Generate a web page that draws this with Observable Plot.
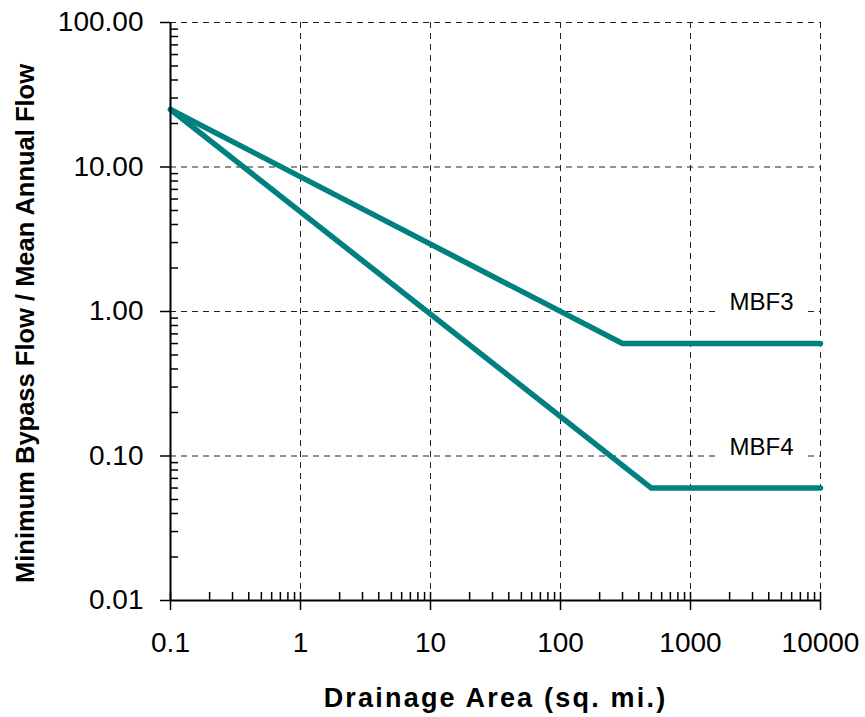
<!DOCTYPE html>
<html>
<head>
<meta charset="utf-8">
<script src="https://cdn.jsdelivr.net/npm/d3@7"></script>
<script src="https://cdn.jsdelivr.net/npm/@observablehq/plot@0.6"></script>
<style>
  html, body { margin: 0; padding: 0; background: #fff; }
</style>
</head>
<body>
<div id="chart"></div>
<script>
// Minimum bypass flow curves (ratio to mean annual flow) against drainage area
const seriesNames = ["MBF3", "MBF4"];
const mbf3Area = [0.1, 300, 10000];
const mbf3Ratio = [25, 0.6, 0.6];
const mbf4Area = [0.1, 500, 10000];
const mbf4Ratio = [25, 0.06, 0.06];

const xTickValues = [0.1, 1, 10, 100, 1000, 10000];
const xTickLabels = ["0.1", "1", "10", "100", "1000", "10000"];
const yTickValues = [0.01, 0.1, 1, 10, 100];
const yTickLabels = ["0.01", "0.10", "1.00", "10.00", "100.00"];

const xTitle = "Drainage Area (sq. mi.)";
const yTitle = "Minimum Bypass Flow / Mean Annual Flow";

const series = [
  {name: seriesNames[0], area: mbf3Area, ratio: mbf3Ratio},
  {name: seriesNames[1], area: mbf4Area, ratio: mbf4Ratio}
];
const rows = series.flatMap(s => s.area.map((a, i) => ({name: s.name, area: a, ratio: s.ratio[i]})));
const ends = series.map(s => ({
  name: s.name,
  area: s.area[s.area.length - 1],
  ratio: s.ratio[s.ratio.length - 1]
}));

// log minor ticks: 2..9 times each decade
const minorBetween = vals => vals.slice(0, -1).flatMap(v => d3.range(2, 10).map(k => v * k));
const xInner = [...xTickValues, ...minorBetween(xTickValues)];
const yInner = minorBetween(yTickValues);

const W = 865, H = 717;
const mL = 170, mR = 45, mT = 22, mB = 117;
const frameW = W - mL - mR, frameH = H - mT - mB;
const innerTick = 8;

const gridStyle = {stroke: "#222", strokeWidth: 1, strokeDasharray: "6,5"};

const chart = Plot.plot({
  width: W,
  height: H,
  marginLeft: mL,
  marginRight: mR,
  marginTop: mT,
  marginBottom: mB,
  style: {
    fontFamily: "'Liberation Sans', Arial, Helvetica, sans-serif",
    fontSize: "28px",
    background: "#fff",
    color: "#000"
  },
  x: {type: "log", domain: [0.1, 10000]},
  y: {type: "log", domain: [0.01, 100]},
  marks: [
    Plot.ruleX(xTickValues.slice(1), gridStyle),
    Plot.ruleY(yTickValues.slice(1), gridStyle),
    Plot.line(rows, {x: "area", y: "ratio", z: "name", stroke: "#008080", strokeWidth: 5.5}),
    Plot.ruleX([xTickValues[0]], {stroke: "#000", strokeWidth: 2}),
    Plot.ruleY([yTickValues[0]], {stroke: "#000", strokeWidth: 2}),
    Plot.axisY({
      ticks: yTickValues,
      tickFormat: d => yTickLabels[yTickValues.indexOf(d)],
      tickSize: 10,
      tickPadding: 17,
      strokeWidth: 1.5,
      label: null
    }),
    Plot.tickY(yInner, {y: d => d, insetRight: frameW - innerTick, stroke: "#000", strokeWidth: 1.5}),
    Plot.axisX({
      ticks: xTickValues,
      tickFormat: d => xTickLabels[xTickValues.indexOf(d)],
      tickSize: 10,
      tickPadding: 22,
      strokeWidth: 1.5,
      label: null
    }),
    Plot.tickX(xInner, {x: d => d, insetTop: frameH - innerTick, stroke: "#000", strokeWidth: 1.5}),
    Plot.text(ends, {
      x: "area", y: "ratio", text: "name",
      dx: -59, dy: -41,
      fontSize: 24, fill: "#000",
      textAnchor: "middle", lineAnchor: "middle"
    }),
    Plot.text([xTitle], {
      text: d => d, frameAnchor: "bottom", dy: 98,
      textAnchor: "middle", lineAnchor: "middle",
      fontWeight: "bold", fontSize: 27, fill: "#000"
    }),
    Plot.text([yTitle], {
      text: d => d, frameAnchor: "left", dx: -145, dy: 12, rotate: -90,
      textAnchor: "middle", lineAnchor: "middle",
      fontWeight: "bold", fontSize: 25.5, fill: "#000"
    })
  ]
});

document.getElementById("chart").append(chart);

// title spacing and white boxes behind the series labels
chart.querySelectorAll("text").forEach(t => {
  const s = t.textContent;
  if (s === xTitle) t.style.letterSpacing = "2.2px";
  if (seriesNames.includes(s)) {
    const b = t.getBBox();
    const r = document.createElementNS("http://www.w3.org/2000/svg", "rect");
    r.setAttribute("x", b.x - 13);
    r.setAttribute("y", b.y - 2);
    r.setAttribute("width", b.width + 26);
    r.setAttribute("height", b.height + 4);
    r.setAttribute("fill", "#fff");
    const tf = t.getAttribute("transform");
    if (tf) r.setAttribute("transform", tf);
    t.parentNode.insertBefore(r, t);
  }
});
</script>
</body>
</html>
